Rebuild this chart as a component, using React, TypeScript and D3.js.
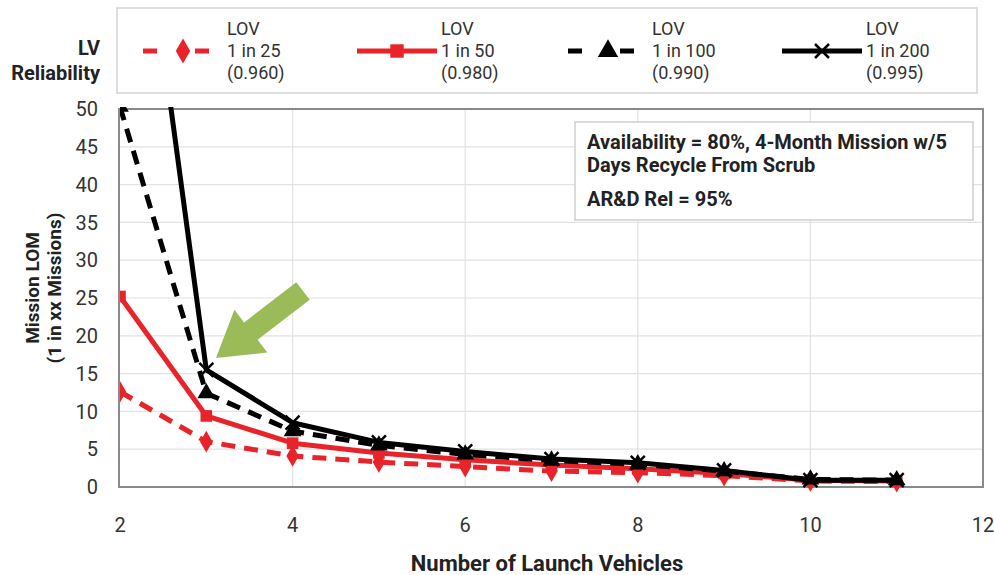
import React, { useEffect, useRef } from 'react';
import * as d3 from 'd3';

// Number of launch vehicles
const vehicles = [2, 3, 4, 5, 6, 7, 8, 9, 10, 11];

// Mission LOM (1 in xx missions) per LV reliability
const lov25 = [12.6, 6.0, 4.1, 3.3, 2.7, 2.1, 1.9, 1.5, 0.8, 0.7];
const lov50 = [25.2, 9.4, 5.8, 4.5, 3.6, 2.9, 2.4, 1.8, 0.9, 0.8];
const lov100 = [50.3, 12.4, 7.4, 5.5, 4.3, 3.5, 3.0, 2.1, 1.0, 0.9];
const lov200 = [100, 15.5, 8.5, 5.9, 4.7, 3.7, 3.2, 2.2, 0.9, 0.9];

const seriesNames = ['1 in 25', '1 in 50', '1 in 100', '1 in 200'];
const seriesRel = ['(0.960)', '(0.980)', '(0.990)', '(0.995)'];

const xTicks = [2, 4, 6, 8, 10, 12];
const yTicks = [0, 5, 10, 15, 20, 25, 30, 35, 40, 45, 50];

const noteLines = ['Availability = 80%,  4-Month Mission w/5', 'Days Recycle From Scrub'];
const noteLine2 = 'AR&D Rel = 95%';

const FONT = 'Roboto, "Liberation Sans", Arial, sans-serif';
const RED = '#e8242a';
const GREEN = '#9bbb59';

const App: React.FC = () => {
  const svgRef = useRef<SVGSVGElement>(null);

  useEffect(() => {
    if (!svgRef.current) return;
    const width = 994;
    const height = 575;
    const svg = d3.select(svgRef.current);
    svg.selectAll('*').remove();
    svg.attr('width', width).attr('height', height).style('font-family', FONT);

    const left = 120, right = 983, top = 109, bottom = 487;
    const x = d3.scaleLinear().domain([2, 12]).range([left, right]);
    const y = d3.scaleLinear().domain([0, 50]).range([bottom, top]);

    svg.append('rect').attr('width', width).attr('height', height).attr('fill', '#fff');

    svg.append('defs').append('clipPath').attr('id', 'plotclip')
      .append('rect').attr('x', left).attr('y', top - 2).attr('width', right - left).attr('height', bottom - top + 10);

    // gridlines
    svg.append('g').selectAll('line.h').data(yTicks.slice(1)).enter().append('line')
      .attr('x1', left).attr('x2', right)
      .attr('y1', d => y(d)).attr('y2', d => y(d))
      .attr('stroke', '#e2e2e2').attr('stroke-width', 1.2);
    svg.append('g').selectAll('line.v').data(xTicks.slice(1, -1)).enter().append('line')
      .attr('x1', d => x(d)).attr('x2', d => x(d))
      .attr('y1', top).attr('y2', bottom)
      .attr('stroke', '#e2e2e2').attr('stroke-width', 1.2);

    // plot border
    svg.append('rect').attr('x', left - 1).attr('y', top).attr('width', right - left + 1).attr('height', bottom - top)
      .attr('fill', 'none').attr('stroke', '#8a8a8a').attr('stroke-width', 2);

    // axis labels
    svg.append('g').selectAll('text').data(yTicks).enter().append('text')
      .attr('x', 98).attr('y', d => y(d)).attr('dy', '0.36em')
      .attr('text-anchor', 'end').attr('font-size', 20).attr('fill', '#333')
      .text(d => d);
    svg.append('g').selectAll('text').data(xTicks).enter().append('text')
      .attr('x', d => x(d)).attr('y', 525).attr('dy', '0.36em')
      .attr('text-anchor', 'middle').attr('font-size', 20).attr('fill', '#333')
      .text(d => d);

    svg.append('text').attr('x', 547).attr('y', 563).attr('dy', '0.36em')
      .attr('text-anchor', 'middle').attr('font-size', 22).attr('font-weight', 'bold').attr('fill', '#222')
      .text('Number of Launch Vehicles');

    const yt = svg.append('text').attr('transform', 'translate(0,288) rotate(-90)')
      .attr('text-anchor', 'middle').attr('font-size', 19).attr('font-weight', 'bold').attr('fill', '#222');
    yt.append('tspan').attr('x', 0).attr('y', 39).text('Mission LOM');
    yt.append('tspan').attr('x', 0).attr('y', 61).text('(1 in xx Missions)');

    // series
    const allSeries = [lov25, lov50, lov100, lov200];
    const colors = [RED, RED, '#000', '#000'];
    const dashes = ['14,9', null, '14,9', null];
    const markers = ['diamond', 'square', 'triangle', 'cross'];

    const line = d3.line<number>().x((_, i) => x(vehicles[i])).y(d => y(d));

    const drawMarker = (g: any, type: string, cx: number, cy: number, color: string, size: number) => {
      if (type === 'cross') {
        const s = size / 2;
        g.append('path').attr('d', `M${cx - s},${cy - s}L${cx + s},${cy + s}M${cx - s},${cy + s}L${cx + s},${cy - s}`)
          .attr('stroke', color).attr('stroke-width', 2.5).attr('fill', 'none');
        return;
      }
      const sym = type === 'diamond' ? d3.symbolDiamond : type === 'square' ? d3.symbolSquare : d3.symbolTriangle;
      g.append('path').attr('d', d3.symbol().type(sym).size(size * size * 0.8)())
        .attr('transform', `translate(${cx},${cy})`).attr('fill', color);
    };

    const plot = svg.append('g').attr('clip-path', 'url(#plotclip)');
    allSeries.forEach((s, k) => {
      const p = plot.append('path').datum(s).attr('d', line)
        .attr('fill', 'none').attr('stroke', colors[k]).attr('stroke-width', 5)
        .attr('stroke-linejoin', 'round');
      if (dashes[k]) p.attr('stroke-dasharray', dashes[k]);
      s.forEach((v, i) => {
        if (v > 50.5) return;
        drawMarker(plot, markers[k], x(vehicles[i]), y(v), colors[k], markers[k] === 'cross' ? 14 : 13);
      });
    });

    // green arrow
    const tail = [303, 291], tip = [216, 358];
    const ang = Math.atan2(tip[1] - tail[1], tip[0] - tail[0]);
    const len = Math.hypot(tip[0] - tail[0], tip[1] - tail[1]);
    const headLen = 44, shaftW = 11, headW = 27;
    const pts: [number, number][] = [
      [0, -shaftW], [len - headLen, -shaftW], [len - headLen, -headW], [len, 0],
      [len - headLen, headW], [len - headLen, shaftW], [0, shaftW],
    ];
    svg.append('polygon')
      .attr('points', pts.map(p => p.join(',')).join(' '))
      .attr('transform', `translate(${tail[0]},${tail[1]}) rotate(${(ang * 180) / Math.PI})`)
      .attr('fill', GREEN);

    // note box
    svg.append('rect').attr('x', 575).attr('y', 122).attr('width', 398).attr('height', 98)
      .attr('fill', '#fff').attr('stroke', '#cfcfcf').attr('stroke-width', 1.5);
    noteLines.forEach((t, i) => {
      svg.append('text').attr('x', 587).attr('y', 142 + i * 23).attr('dy', '0.36em')
        .attr('font-size', 20).attr('font-weight', 'bold').attr('fill', '#222').text(t);
    });
    svg.append('text').attr('x', 587).attr('y', 199).attr('dy', '0.36em')
      .attr('font-size', 20).attr('font-weight', 'bold').attr('fill', '#222').text(noteLine2);

    // legend
    svg.append('rect').attr('x', 117).attr('y', 8).attr('width', 860).attr('height', 85)
      .attr('fill', '#fff').attr('stroke', '#d4d4d4').attr('stroke-width', 1.5);
    svg.append('text').attr('x', 100).attr('y', 48).attr('dy', '0.36em').attr('text-anchor', 'end')
      .attr('font-size', 20).attr('font-weight', 'bold').attr('fill', '#222').text('LV');
    svg.append('text').attr('x', 100).attr('y', 73).attr('dy', '0.36em').attr('text-anchor', 'end')
      .attr('font-size', 20).attr('font-weight', 'bold').attr('fill', '#222').text('Reliability');

    const legendX = [143, 357, 568, 782];
    seriesNames.forEach((name, k) => {
      const g = svg.append('g');
      const x0 = legendX[k], x1 = x0 + 80, ly = 51;
      const l = g.append('line').attr('x1', x0).attr('x2', x1).attr('y1', ly).attr('y2', ly)
        .attr('stroke', colors[k]).attr('stroke-width', 5);
      if (dashes[k]) l.attr('stroke-dasharray', '14,20,0,18,14,20');
      drawMarker(g, markers[k], (x0 + x1) / 2, ly, colors[k], markers[k] === 'cross' ? 14 : 15);
      const tx = x1 + 4;
      [['LOV', 29], [name, 51], [seriesRel[k], 73]].forEach(([t, yy]) => {
        g.append('text').attr('x', tx).attr('y', yy as number).attr('dy', '0.36em')
          .attr('font-size', 18).attr('fill', '#333').text(t as string);
      });
    });
  }, []);

  return (
    <div style={{ position: 'absolute', left: 0, top: 0 }}>
      <svg ref={svgRef}></svg>
    </div>
  );
};

export default App;
